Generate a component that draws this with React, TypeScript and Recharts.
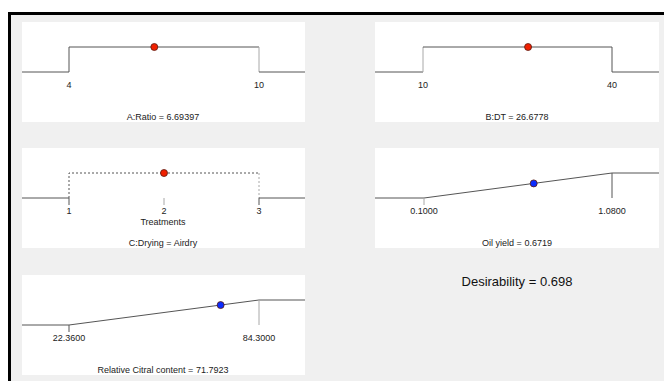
import React from "react";
import { LineChart, Line, XAxis, YAxis, ReferenceDot } from "recharts";

const factorNames = ["A:Ratio", "B:DT", "C:Drying", "Oil yield", "Relative Citral content"];
const lowLimits = [4, 10, 1, 0.1, 22.36];
const highLimits = [10, 40, 3, 1.08, 84.3];
const currentValues = [6.69397, 26.6778, 2, 0.6719, 71.7923];
const currentLabels = ["6.69397", "26.6778", "Airdry", "0.6719", "71.7923"];
const desirabilityValues = [1, 1, 1, 0.584, 0.798];
const tickValues = [[4, 10], [10, 40], [1, 2, 3], [0.1, 1.08], [22.36, 84.3]];
const tickLabels = [["4", "10"], ["10", "40"], ["1", "2", "3"], ["0.1000", "1.0800"], ["22.3600", "84.3000"]];
const categoryAxisTitle = "Treatments";
const overallDesirability = "0.698";

const FONT = '"Liberation Sans", Arial, sans-serif';
const DARK = "#555555";
const LIGHT = "#a8a8a8";
const RED = "#f02000";
const BLUE = "#0a2cff";

type Kind = "range" | "category" | "ramp";

const panels: {
  left: number; top: number; width: number; height: number; kind: Kind;
  padL: number; padR: number; dot: string; loShade: string; hiShade: string;
  marks: (string | null)[]; markLen: number; labelDy: number; titleY: number; titleX: number;
}[] = [
  { left: 22, top: 22, width: 283, height: 100, kind: "range", padL: 47, padR: 46, dot: RED, loShade: DARK, hiShade: LIGHT, marks: [null, null], markLen: 0, labelDy: 13, titleY: 95, titleX: 141 },
  { left: 375, top: 22, width: 284, height: 100, kind: "range", padL: 48, padR: 47, dot: RED, loShade: LIGHT, hiShade: DARK, marks: [null, null], markLen: 0, labelDy: 13, titleY: 95, titleX: 142 },
  { left: 22, top: 148, width: 283, height: 100, kind: "category", padL: 47, padR: 46, dot: RED, loShade: DARK, hiShade: LIGHT, marks: [DARK, LIGHT, DARK], markLen: 7, labelDy: 13, titleY: 95, titleX: 141 },
  { left: 375, top: 148, width: 284, height: 100, kind: "ramp", padL: 49, padR: 47, dot: BLUE, loShade: LIGHT, hiShade: DARK, marks: [LIGHT, null], markLen: 7, labelDy: 13, titleY: 95, titleX: 142 },
  { left: 22, top: 275, width: 283, height: 100, kind: "ramp", padL: 47, padR: 46, dot: BLUE, loShade: DARK, hiShade: LIGHT, marks: [DARK, null], markLen: 7, labelDy: 13, titleY: 95, titleX: 141 },
];

type Seg = { pts: { x: number; y: number }[]; stroke: string; dash?: string };

function buildSegments(i: number, xmin: number, xmax: number): Seg[] {
  const p = panels[i];
  const lo = lowLimits[i];
  const hi = highLimits[i];
  if (p.kind === "range") {
    return [
      { pts: [{ x: xmin, y: 0 }, { x: lo, y: 0 }], stroke: DARK },
      { pts: [{ x: lo, y: 0 }, { x: lo, y: 1 }], stroke: p.loShade },
      { pts: [{ x: lo, y: 1 }, { x: hi, y: 1 }], stroke: DARK },
      { pts: [{ x: hi, y: 1 }, { x: hi, y: 0 }], stroke: p.hiShade },
      { pts: [{ x: hi, y: 0 }, { x: xmax, y: 0 }], stroke: DARK },
    ];
  }
  if (p.kind === "category") {
    return [
      { pts: [{ x: xmin, y: 0 }, { x: lo, y: 0 }], stroke: DARK },
      { pts: [{ x: lo, y: 0 }, { x: lo, y: 1 }, { x: hi, y: 1 }], stroke: DARK, dash: "2 2" },
      { pts: [{ x: hi, y: 1 }, { x: hi, y: 0 }], stroke: LIGHT, dash: "2 2" },
      { pts: [{ x: hi, y: 0 }, { x: xmax, y: 0 }], stroke: DARK },
    ];
  }
  return [
    { pts: [{ x: xmin, y: 0 }, { x: lo, y: 0 }], stroke: DARK },
    { pts: [{ x: lo, y: 0 }, { x: hi, y: 1 }], stroke: DARK },
    { pts: [{ x: hi, y: 1 }, { x: xmax, y: 1 }], stroke: DARK },
    { pts: [{ x: hi, y: 1 }, { x: hi, y: 0 }], stroke: p.hiShade },
  ];
}

function Panel({ i }: { i: number }) {
  const p = panels[i];
  const lo = lowLimits[i];
  const hi = highLimits[i];
  const inner = p.width - p.padL - p.padR;
  const span = hi - lo;
  const xmin = lo - (span * p.padL) / inner;
  const xmax = hi + (span * p.padR) / inner;
  const segs = buildSegments(i, xmin, xmax);
  const values = tickValues[i];
  const labels = tickLabels[i];

  const renderTick = (props: any) => {
    const { x, y, payload } = props;
    const k = values.indexOf(payload.value);
    const mark = p.marks[k];
    return (
      <g>
        {mark && <line x1={x} x2={x} y1={y} y2={y + p.markLen} stroke={mark} />}
        <text x={x} y={y + p.labelDy} textAnchor="middle" dominantBaseline="central" fontSize={9} fontFamily={FONT} fill="#222">
          {labels[k]}
        </text>
      </g>
    );
  };

  return (
    <div style={{ position: "absolute", left: p.left, top: p.top, width: p.width, height: p.height, background: "#fff" }}>
      <LineChart width={p.width} height={p.height} margin={{ top: 25, right: 0, bottom: 0, left: 0 }}>
        <XAxis
          type="number"
          dataKey="x"
          domain={[xmin, xmax]}
          ticks={values}
          height={p.height - 50}
          axisLine={false}
          tickLine={false}
          tickSize={0}
          tickMargin={0}
          interval={0}
          tick={renderTick}
        />
        <YAxis type="number" dataKey="y" domain={[0, 1]} hide />
        {segs.map((s, k) => (
          <Line
            key={k}
            data={s.pts}
            dataKey="y"
            type="linear"
            stroke={s.stroke}
            strokeWidth={1}
            strokeDasharray={s.dash}
            dot={false}
            activeDot={false}
            isAnimationActive={false}
          />
        ))}
        <ReferenceDot x={currentValues[i]} y={desirabilityValues[i]} r={3.5} fill={p.dot} stroke="#5a1a10" strokeWidth={0.8} />
      </LineChart>
      {p.kind === "category" && (
        <div style={{ position: "absolute", left: 141 - 60, top: 69, width: 120, textAlign: "center", fontSize: 9, lineHeight: "10px", fontFamily: FONT, color: "#222" }}>
          {categoryAxisTitle}
        </div>
      )}
      <div style={{ position: "absolute", left: p.titleX - 100, top: p.titleY - 5, width: 200, textAlign: "center", fontSize: 9, lineHeight: "10px", fontFamily: FONT, color: "#222", whiteSpace: "nowrap" }}>
        {factorNames[i]} = {currentLabels[i]}
      </div>
    </div>
  );
}

export default function App() {
  return (
    <div style={{ position: "absolute", left: 0, top: 0, width: 664, height: 381, background: "#fff", overflow: "hidden" }}>
      <div style={{ position: "absolute", left: 8, top: 12, width: 656, height: 369, background: "#f0f0f0", borderTop: "3px solid #000", borderLeft: "3px solid #000", boxSizing: "border-box" }} />
      {panels.map((_, i) => (
        <Panel key={i} i={i} />
      ))}
      <div style={{ position: "absolute", left: 417, top: 274, width: 200, textAlign: "center", fontSize: 13, lineHeight: "16px", fontFamily: FONT, color: "#111" }}>
        Desirability = {overallDesirability}
      </div>
    </div>
  );
}
